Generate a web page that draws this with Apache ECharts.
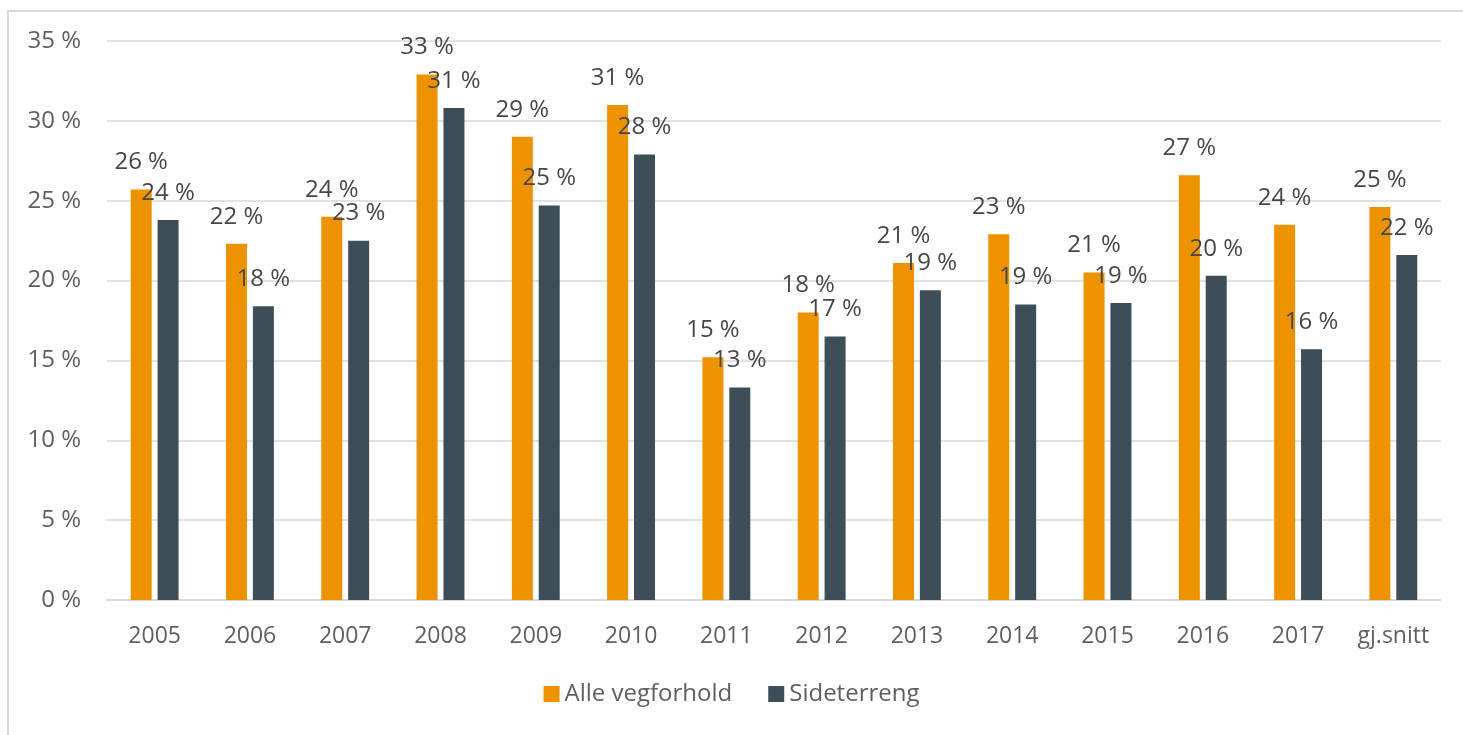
<!DOCTYPE html>
<html>
<head>
<meta charset="utf-8">
<script src="https://cdn.jsdelivr.net/npm/echarts@6/dist/echarts.min.js"></script>
<style>
    html, body {
        margin: 0;
        padding: 0;
        background: #ffffff;
        overflow: hidden;
    }
    .frame {
        position: absolute;
        left: 7px;
        top: 10px;
        width: 1500px;
        height: 800px;
        border-top: 2px solid #d9d9d9;
        border-left: 2px solid #d9d9d9;
    }
    #chart {
        position: absolute;
        left: 0;
        top: 0;
        width: 1463px;
        height: 735px;
    }
</style>
</head>
<body>
<div class="frame"></div>
<div id="chart"></div>
<script>
// kategorier og verdier (prosent)
var years = ['2005', '2006', '2007', '2008', '2009', '2010', '2011', '2012', '2013', '2014', '2015', '2016', '2017', 'gj.snitt']
var alleVegforhold = [25.7, 22.3, 24.0, 32.9, 29.0, 31.0, 15.2, 18.0, 21.1, 22.9, 20.5, 26.6, 23.5, 24.6]
var sideterreng = [23.8, 18.4, 22.5, 30.8, 24.7, 27.9, 13.3, 16.5, 19.4, 18.5, 18.6, 20.3, 15.7, 21.6]
var yTicks = [0, 5, 10, 15, 20, 25, 30, 35]

var fontName = '"Open Sans", "DejaVu Sans", sans-serif'

var labelOption = {
    show: true,
    position: 'top',
    distance: 15,
    fontFamily: fontName,
    fontSize: 24,
    color: '#474747',
    formatter: function (p) {
        return Math.round(p.value) + ' %'
    }
}

var myChart = echarts.init(document.getElementById('chart'))
var option = {
    animation: false,
    color: ['#ee9300', '#3e4e59'],
    grid: {
        left: 107,
        right: 22,
        top: 41,
        bottom: 135,
        containLabel: false
    },
    legend: {
        bottom: 24,
        left: 'center',
        itemWidth: 16,
        itemHeight: 16,
        itemGap: 36,
        icon: 'rect',
        textStyle: {
            fontFamily: fontName,
            fontSize: 24,
            color: '#5f5f5f'
        },
        data: ['Alle vegforhold', 'Sideterreng']
    },
    xAxis: {
        type: 'category',
        data: years,
        axisTick: {show: false},
        axisLine: {lineStyle: {color: '#d9d9d9', width: 2}},
        axisLabel: {
            interval: 0,
            hideOverlap: false,
            margin: 25,
            fontFamily: fontName,
            fontSize: 23,
            color: '#5f5f5f'
        }
    },
    yAxis: {
        type: 'value',
        min: yTicks[0],
        max: yTicks[yTicks.length - 1],
        interval: 5,
        axisLine: {show: false},
        axisTick: {show: false},
        splitLine: {lineStyle: {color: '#d9d9d9', width: 1.5}},
        axisLabel: {
            margin: 26,
            fontFamily: fontName,
            fontSize: 24,
            color: '#5f5f5f',
            formatter: '{value} %'
        }
    },
    series: [
        {
            name: 'Alle vegforhold',
            type: 'bar',
            barWidth: 21,
            barGap: '28%',
            data: alleVegforhold,
            label: labelOption
        },
        {
            name: 'Sideterreng',
            type: 'bar',
            barWidth: 21,
            data: sideterreng,
            label: labelOption
        }
    ]
}
myChart.setOption(option)
</script>
</body>
</html>
